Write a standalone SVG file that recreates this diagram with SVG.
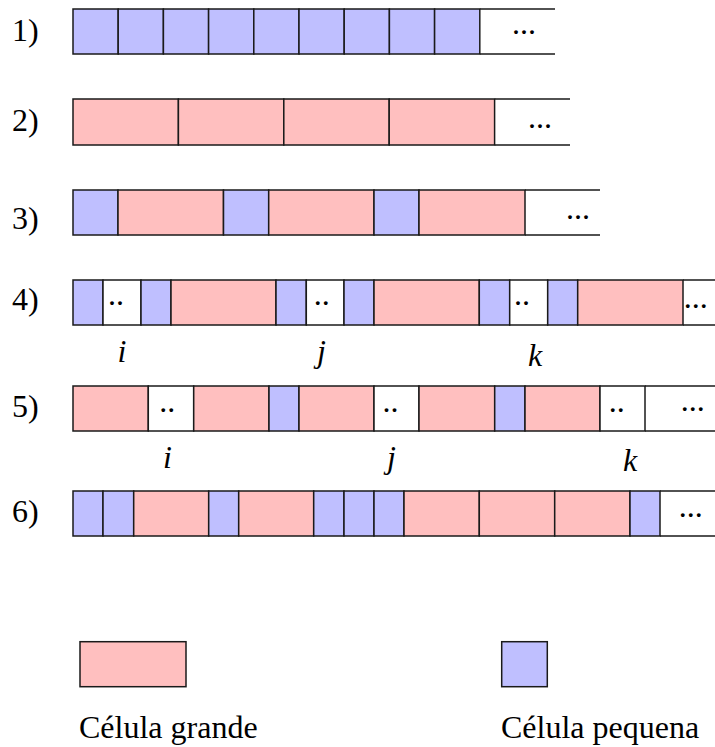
<svg xmlns="http://www.w3.org/2000/svg" width="715" height="747" viewBox="0 0 715 747">
<style>
rect{stroke:#1a1a1a;stroke-width:1.5}
.b{fill:#bfbfff}
.p{fill:#ffbfbf}
.w{fill:#ffffff}
.o{stroke:#1a1a1a;stroke-width:1.5;fill:none}
text{font-family:'Liberation Serif',serif;font-size:32px;fill:#000}
.d{text-anchor:middle}
.v{font-style:italic;text-anchor:middle}
</style>
<g id="row1">
<text x="12" y="41">1)</text>
<rect class="b" x="73" y="9" width="45.2" height="45"/>
<rect class="b" x="118.2" y="9" width="45.2" height="45"/>
<rect class="b" x="163.4" y="9" width="45.2" height="45"/>
<rect class="b" x="208.6" y="9" width="45.2" height="45"/>
<rect class="b" x="253.8" y="9" width="45.2" height="45"/>
<rect class="b" x="299" y="9" width="45.2" height="45"/>
<rect class="b" x="344.2" y="9" width="45.2" height="45"/>
<rect class="b" x="389.4" y="9" width="45.2" height="45"/>
<rect class="b" x="434.6" y="9" width="45.2" height="45"/>
<path class="o" d="M479.8 9H555M479.8 54H555"/>
<text class="d" x="524" y="34">...</text>
</g>
<g id="row2">
<text x="12" y="131">2)</text>
<rect class="p" x="73" y="99" width="105.4" height="46"/>
<rect class="p" x="178.4" y="99" width="105.4" height="46"/>
<rect class="p" x="283.8" y="99" width="105.4" height="46"/>
<rect class="p" x="389.2" y="99" width="105.4" height="46"/>
<path class="o" d="M494.6 99H570M494.6 145H570"/>
<text class="d" x="540" y="128">...</text>
</g>
<g id="row3">
<text x="12" y="229">3)</text>
<rect class="b" x="73" y="190" width="45" height="45"/>
<rect class="p" x="118" y="190" width="105.5" height="45"/>
<rect class="b" x="223.5" y="190" width="45.2" height="45"/>
<rect class="p" x="268.7" y="190" width="105.3" height="45"/>
<rect class="b" x="374" y="190" width="45" height="45"/>
<rect class="p" x="419" y="190" width="106" height="45"/>
<path class="o" d="M525 190H600M525 235H600"/>
<text class="d" x="578" y="219">...</text>
</g>
<g id="row4">
<text x="12" y="310">4)</text>
<rect class="b" x="73" y="280" width="30" height="45"/>
<rect class="w" x="103" y="280" width="38" height="45"/>
<rect class="b" x="141" y="280" width="30" height="45"/>
<rect class="p" x="171" y="280" width="105" height="45"/>
<rect class="b" x="276" y="280" width="30.3" height="45"/>
<rect class="w" x="306.3" y="280" width="37.7" height="45"/>
<rect class="b" x="344" y="280" width="30" height="45"/>
<rect class="p" x="374" y="280" width="105.3" height="45"/>
<rect class="b" x="479.3" y="280" width="30.4" height="45"/>
<rect class="w" x="509.7" y="280" width="38" height="45"/>
<rect class="b" x="547.7" y="280" width="30" height="45"/>
<rect class="p" x="577.7" y="280" width="105.3" height="45"/>
<path class="o" d="M683 280H715M683 325H715"/>
<text class="d" x="116" y="305">..</text>
<text class="d" x="321.7" y="305">..</text>
<text class="d" x="522" y="305">..</text>
<text class="d" x="695.7" y="308">...</text>
<text class="v" x="122" y="362">i</text>
<text class="v" x="321.5" y="362">j</text>
<text class="v" x="535" y="366">k</text>
</g>
<g id="row5">
<text x="12" y="417">5)</text>
<rect class="p" x="73" y="386" width="75.3" height="45"/>
<rect class="w" x="148.3" y="386" width="45.4" height="45"/>
<rect class="p" x="193.7" y="386" width="75.3" height="45"/>
<rect class="b" x="269" y="386" width="30" height="45"/>
<rect class="p" x="299" y="386" width="75" height="45"/>
<rect class="w" x="374" y="386" width="45" height="45"/>
<rect class="p" x="419" y="386" width="75.7" height="45"/>
<rect class="b" x="494.7" y="386" width="30.3" height="45"/>
<rect class="p" x="525" y="386" width="75" height="45"/>
<rect class="w" x="600" y="386" width="45" height="45"/>
<path class="o" d="M645 386H715M645 431H715"/>
<text class="d" x="167.3" y="412">..</text>
<text class="d" x="390.5" y="412">..</text>
<text class="d" x="616.7" y="412">..</text>
<text class="d" x="692.7" y="411">...</text>
<text class="v" x="167.5" y="468">i</text>
<text class="v" x="391.5" y="468">j</text>
<text class="v" x="630" y="471">k</text>
</g>
<g id="row6">
<text x="12" y="522">6)</text>
<rect class="b" x="73" y="491" width="30" height="45"/>
<rect class="b" x="103" y="491" width="30.7" height="45"/>
<rect class="p" x="133.7" y="491" width="75" height="45"/>
<rect class="b" x="208.7" y="491" width="30" height="45"/>
<rect class="p" x="238.7" y="491" width="75" height="45"/>
<rect class="b" x="313.7" y="491" width="30.3" height="45"/>
<rect class="b" x="344" y="491" width="30" height="45"/>
<rect class="b" x="374" y="491" width="30" height="45"/>
<rect class="p" x="404" y="491" width="75.3" height="45"/>
<rect class="p" x="479.3" y="491" width="75.4" height="45"/>
<rect class="p" x="554.7" y="491" width="75.3" height="45"/>
<rect class="b" x="630" y="491" width="30" height="45"/>
<path class="o" d="M660 491H715M660 536H715"/>
<text class="d" x="690.8" y="517">...</text>
</g>
<g id="legend-grande">
<rect class="p" x="80" y="641.7" width="106" height="45"/>
<text x="79" y="738">Célula grande</text>
</g>
<g id="legend-pequena">
<rect class="b" x="501.7" y="641.7" width="45.6" height="45"/>
<text x="501" y="738">Célula pequena</text>
</g>
</svg>
